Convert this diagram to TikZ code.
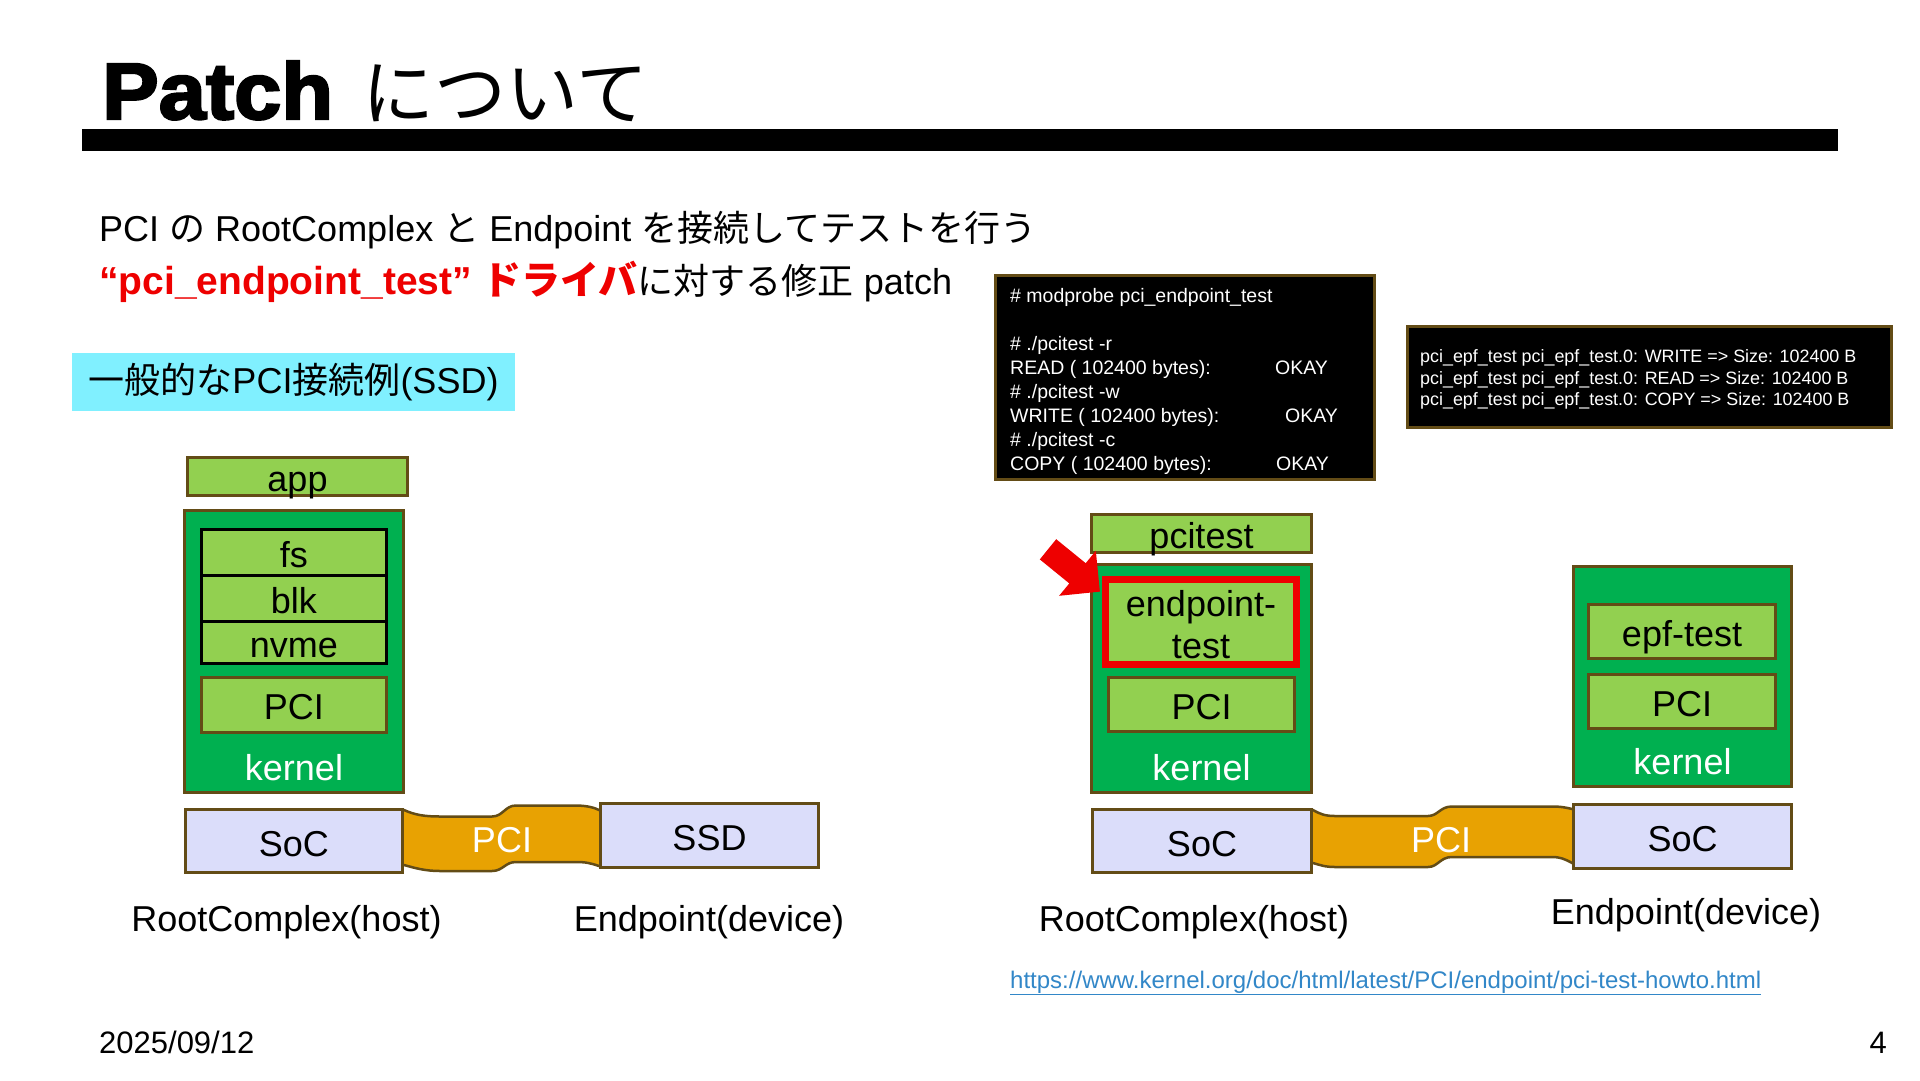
\documentclass[tikz,border=0pt]{standalone}
\usepackage{fontspec}
\setmainfont{Liberation Sans}
\newfontfamily\jp{Noto Sans CJK JP}
\newfontfamily\titlefont[FakeBold=3,FakeStretch=1.06]{Liberation Sans Bold}
\definecolor{brn}{RGB}{99,76,22}
\definecolor{lgreen}{RGB}{146,208,80}
\definecolor{dgreen}{RGB}{0,176,80}
\definecolor{socc}{RGB}{219,221,250}
\definecolor{orng}{RGB}{232,162,2}
\definecolor{cyanbox}{RGB}{128,240,255}
\definecolor{redc}{RGB}{238,0,0}
\definecolor{linkc}{RGB}{50,135,200}
\tikzset{
  box/.style={draw=brn, line width=3pt, inner sep=0pt, font=\fontsize{36}{42}\selectfont, text=black,
              text height=30pt, text depth=0pt},
  lg/.style={box, fill=lgreen},
  kern/.style={box, fill=dgreen},
  socbox/.style={box, fill=socc},
  cell/.style={box, draw=black, fill=lgreen},
  lbl/.style={inner sep=0pt, font=\fontsize{36}{42}\selectfont},
  wlbl/.style={lbl, text=white},
  term/.style={draw=brn, line width=3pt, fill=black, inner sep=0pt},
  tline/.style={inner sep=0pt, anchor=base west, text=white, font=\fontsize{19.5}{24}\selectfont},
  tlineb/.style={inner sep=0pt, anchor=base west, text=white, font=\fontsize{17.9}{22}\selectfont},
  ribbon/.style={draw=brn, line width=2.5pt, fill=orng, line join=round}
}
\begin{document}
\begin{tikzpicture}[x=1pt,y=-1pt]
\useasboundingbox (0,0) rectangle (1920,1080);
\fill[white] (0,0) rectangle (1920,1080);

% title
\node[inner sep=0pt, anchor=base west, font=\titlefont\fontsize{80}{90}\selectfont] (t) at (102,119) {Patch};
\node[inner sep=0pt, anchor=base west, font=\jp\fontsize{72}{80}\selectfont] (tj) at (362,119) {について};
\fill[black] (82,128.6) rectangle (1838,150.6);

% body lines
\node[inner sep=0pt, anchor=base west, font=\fontsize{36}{42}\selectfont] (l1) at (99,241)
  {PCI {\jp の} RootComplex {\jp と} Endpoint {\jp を接続してテストを行う}};
\node[inner sep=0pt, anchor=base west, font=\fontsize{36}{42}\selectfont] (l2) at (99,294)
  {{\color{redc}\bfseries\fontsize{39}{42}\selectfont “pci\_endpoint\_test” {\jp\bfseries ドライバ}}{\jp に対する修正} patch};

\node[fill=cyanbox, minimum width=443pt, minimum height=58pt, inner sep=0pt,
      font=\fontsize{36}{42}\selectfont] (cyan) at (293.5,382) {{\jp 一般的な}PCI{\jp 接続例}(SSD)};

% terminals
\node[term, minimum width=379pt, minimum height=204pt] (t1) at (1185,377.5) {};
\node[tline] (t1a) at (1010,302) {\# modprobe pci\_endpoint\_test};
\node[tline] (t1b) at (1010,350) {\# ./pcitest -r};
\node[tline] (t1c) at (1010,374) {READ ( 102400 bytes):};
\node[tline] (t1cc) at (1275,374) {OKAY};
\node[tline] (t1d) at (1010,398) {\# ./pcitest -w};
\node[tline] (t1e) at (1010,422) {WRITE ( 102400 bytes):};
\node[tline] (t1ee) at (1285,422) {OKAY};
\node[tline] (t1f) at (1010,446) {\# ./pcitest -c};
\node[tline] (t1g) at (1010,470) {COPY ( 102400 bytes):};
\node[tline] (t1gg) at (1276,470) {OKAY};

\node[term, minimum width=484pt, minimum height=101pt] (t2) at (1649.5,376.5) {};
\node[tlineb] (t2a) at (1420,362.5) {pci\_epf\_test pci\_epf\_test.0: WRITE => Size: 102400 B};
\node[tlineb] (t2b) at (1420,384) {pci\_epf\_test pci\_epf\_test.0: READ => Size: 102400 B};
\node[tlineb] (t2c) at (1420,405.5) {pci\_epf\_test pci\_epf\_test.0: COPY => Size: 102400 B};

% ribbons
\path[ribbon] (400,810) -- (404,810) .. controls (415,815) and (425,816.5) .. (440,816.5) -- (492,816.5)
  .. controls (503,816.5) and (505,805.5) .. (516,805.5) -- (575,805.5)
  .. controls (588,805.5) and (595,808) .. (599,810) -- (603,810) -- (603,866) -- (599,866)
  .. controls (590,863) and (586,862) .. (575,862) -- (516,862)
  .. controls (505,862) and (503,871) .. (492,871) -- (440,871)
  .. controls (425,871) and (415,868) .. (404,865) -- (400,865) -- cycle;
\path[ribbon] (1309,810) -- (1313,810) .. controls (1320,814) and (1325,816) .. (1335,816) -- (1428,816)
  .. controls (1438,816) and (1440,806.5) .. (1452,806.5) -- (1552,806.5)
  .. controls (1562,806.5) and (1568,808) .. (1572,809) -- (1576,809) -- (1576,863) -- (1572,863)
  .. controls (1565,859) and (1560,857) .. (1552,857) -- (1452,857)
  .. controls (1440,857) and (1438,867) .. (1428,867) -- (1335,867)
  .. controls (1325,867) and (1320,865) .. (1313,863) -- (1309,863) -- cycle;
\node[wlbl] (pcil) at (502,840) {PCI};
\node[wlbl] (pcir) at (1441,840) {PCI};

% left diagram
\node[lg, minimum width=220pt, minimum height=38.5pt] (app) at (297.5,476.25) {app};
\node[kern, minimum width=219.5pt, minimum height=281.5pt] (kernL) at (293.75,651.25) {};
\node[cell, minimum width=185.5pt, minimum height=45.5pt] (fs) at (293.8,552.25) {fs};
\node[cell, minimum width=185.5pt, minimum height=46pt] (blk) at (293.8,598) {blk};
\node[cell, minimum width=185.5pt, minimum height=42.5pt] (nvme) at (293.8,642.25) {nvme};
\node[lg, minimum width=185.5pt, minimum height=54.5pt] (pciL) at (293.8,704.75) {PCI};
\node[wlbl] (kL) at (294,768) {kernel};
\node[socbox, minimum width=217pt, minimum height=63pt] (socL) at (293.85,841) {SoC};
\node[socbox, minimum width=218pt, minimum height=64pt] (ssd) at (709.5,835.5) {SSD};
\node[lbl] (rcL) at (286.5,922.5) {RootComplex(host)};
\node[lbl] (epL) at (709,922.5) {Endpoint(device)};

% right diagram (host)
\node[lg, minimum width=220pt, minimum height=37.5pt] (pcitest) at (1201.5,533.25) {pcitest};
\node[kern, minimum width=220pt, minimum height=227.5pt] (kernR) at (1201.5,678.25) {};
\node[box, draw=redc, line width=7pt, fill=lgreen, minimum width=191pt, minimum height=85pt,
      text height=, text depth=, align=center, font=\fontsize{36}{42}\selectfont] (ept) at (1201,622) {};
\node[lbl] (eptxt) at (1201,625) [align=center, font=\fontsize{36}{42}\selectfont] {endpoint-\\test};
\node[lg, minimum width=186pt, minimum height=54pt] (pciR) at (1201.5,704) {PCI};
\node[wlbl] (kR) at (1201.5,768) {kernel};
\node[socbox, minimum width=219pt, minimum height=63pt] (socR) at (1202,841) {SoC};
\node[lbl] (rcR) at (1194,922.5) {RootComplex(host)};

% right diagram (endpoint)
\node[kern, minimum width=218pt, minimum height=220pt] (kernE) at (1682.5,676) {};
\node[lg, minimum width=187pt, minimum height=54pt] (epf) at (1682,631.5) {epf-test};
\node[lg, minimum width=187pt, minimum height=54pt] (pciE) at (1682,701.5) {PCI};
\node[wlbl] (kE) at (1682.5,762) {kernel};
\node[socbox, minimum width=218pt, minimum height=64pt] (socE) at (1682.5,836.5) {SoC};
\node[lbl] (epR) at (1686,915) {Endpoint(device)};

% red arrow
\fill[redc] (1056.2,539.2) -- (1085.7,563.2) -- (1095.8,550.8) -- (1099.9,591.6)
  -- (1059.1,595.8) -- (1069.3,583.4) -- (1039.8,559.4) -- cycle;

% link, date, page
\node[inner sep=0pt, anchor=base west, text=linkc, font=\fontsize{24}{28}\selectfont] (link) at (1010,988)
  {\underline{https://www.kernel.org/doc/html/latest/PCI/endpoint/pci-test-howto.html}};
\node[inner sep=0pt, anchor=base west, font=\fontsize{31}{34}\selectfont] (date) at (99,1053) {2025/09/12};
\node[inner sep=0pt, anchor=base east, font=\fontsize{31}{34}\selectfont] (page) at (1887,1053) {4};
\end{tikzpicture}
\end{document}
